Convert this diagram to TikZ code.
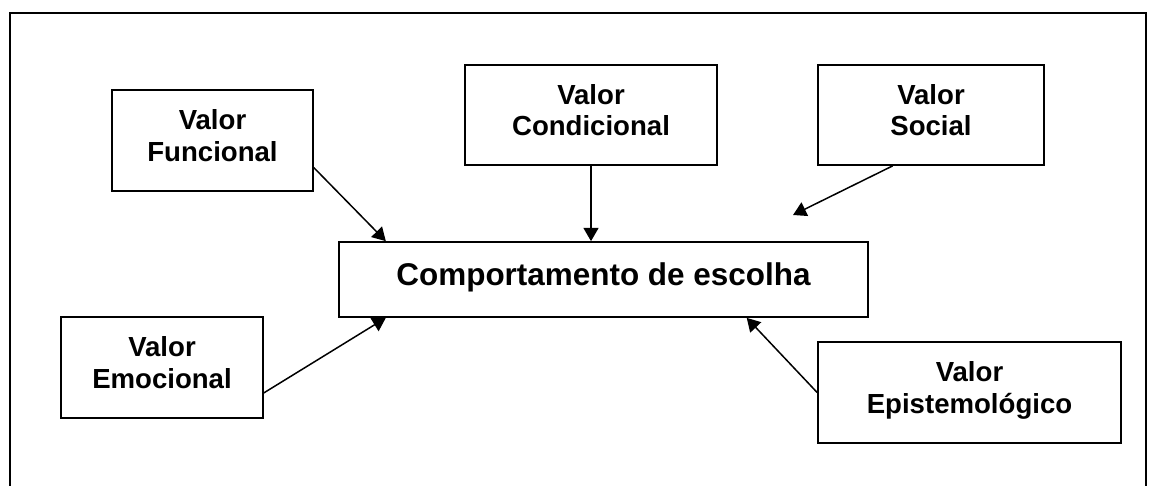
\documentclass[tikz,border=0pt]{standalone}
\usepackage{fontspec}
\setmainfont{Liberation Sans}
\usetikzlibrary{arrows.meta}
\begin{document}
\begin{tikzpicture}[x=0.02cm, y=-0.02cm]
    % Definicao estilos
    \tikzset{valor/.style={draw, line width=1pt, minimum height=2.02cm, align=center, inner sep=0pt, execute at end node={\rule[-0.2cm]{0pt}{0.2cm}}, font=\bfseries\fontsize{15.7}{18.1}\selectfont}}
    \tikzstyle{centro}=[draw, line width=1pt, minimum width=10.58cm, minimum height=1.5cm, inner sep=0pt, execute at end node={\rule[-0.2cm]{0pt}{0.2cm}}, font=\bfseries\fontsize{17.9}{20}\selectfont]
    \tikzstyle{influencia}=[-{Triangle[length=7.5pt, width=8.5pt]}, line width=0.85pt]

    \useasboundingbox (0,0) rectangle (1149,486);
    \draw[line width=0.9pt] (10,500) -- (10,13) -- (1146,13) -- (1146,500);

    % Comportamento de escolha
    \node[centro] (comport) at (603.5,279.5) {Comportamento de escolha};

    % Valores em cima
    \node[valor, minimum width=4.02cm] (funcional) at (212.5,140.5) {Valor\\Funcional};
    \node[valor, minimum width=5.04cm, minimum height=2cm] (condicional) at (591,115) {Valor\\Condicional};
    \node[valor, minimum width=4.52cm, minimum height=2cm] (social) at (931,115) {Valor\\Social};

    % Valores em baixo
    \node[valor, minimum width=4.04cm] (emocional) at (162,367.5) {Valor\\Emocional};
    \node[valor, minimum width=6.06cm] (epistemo) at (969.5,392.5) {Valor\\Epistemológico};

    \coordinate (social_fim) at (793,215);

    \draw[influencia] (funcional.-15) -- (comport.170);
    \draw[influencia] (condicional.south) -- (condicional.south |- comport.north);
    \draw[influencia] (social.-127) -- (social_fim);
    \draw[influencia] (emocional.-14) -- (comport.190);
    \draw[influencia] (epistemo.west) -- (comport.-15);
\end{tikzpicture}
\end{document}
